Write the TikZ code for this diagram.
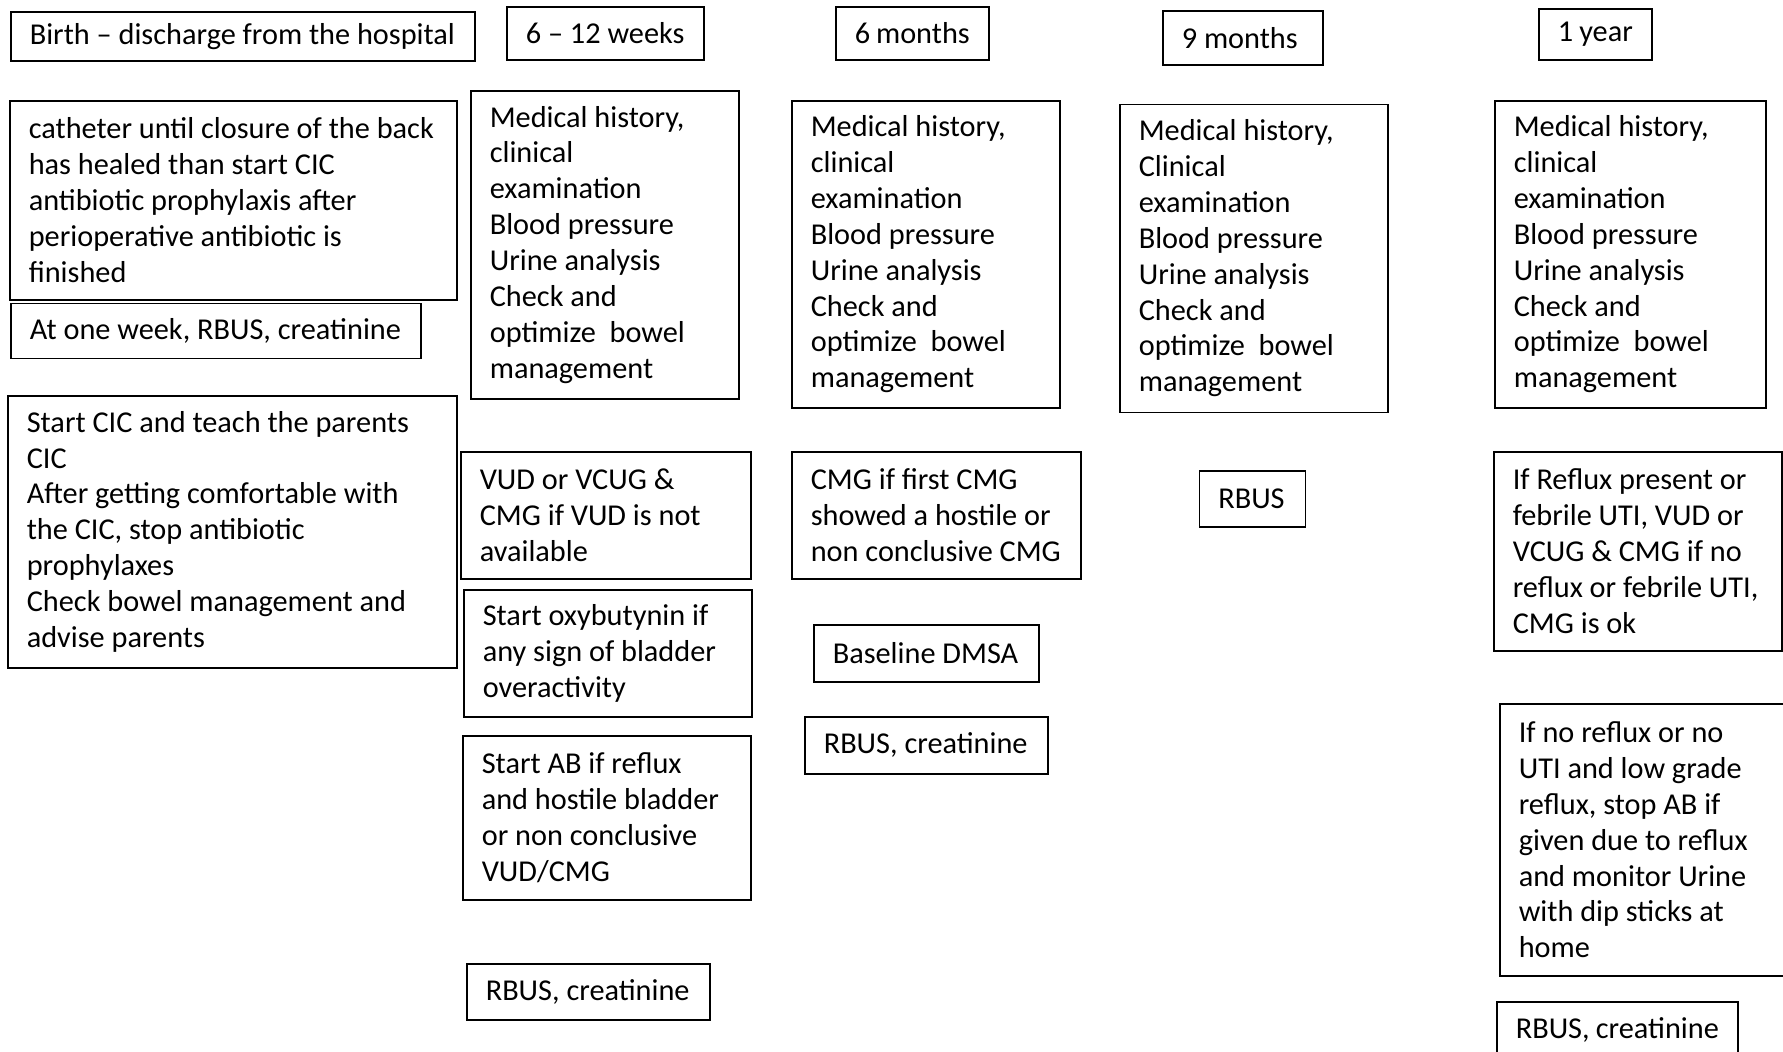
\documentclass[tikz,border=0pt]{standalone}
\usepackage{fontspec}
\setmainfont{Carlito}

\begin{document}
\begin{tikzpicture}[
  x=1pt, y=-1pt,
  box/.style={
    draw,
    line width=1.6pt,
    anchor=north west,
    align=flush left,
    inner xsep=19pt,
    inner ysep=0pt,
    font=\fontsize{30.3}{35.9}\selectfont
  }
  ]
  \useasboundingbox (0,0) rectangle (1783,1052);

  % time points
  \node[box,text width=426pt,minimum height=49pt](birth) at (10,11){Birth – discharge from the hospital};
  \node[box,text width=159pt,minimum height=53pt](wk) at (506,6){6 – 12~weeks};
  \node[box,text width=115pt,minimum height=53pt](m6) at (835,6){6~months};
  \node[box,text width=122pt,minimum height=54pt](m9) at (1162,10){9~months};
  \node[box,text width=75pt,minimum height=51pt](y1) at (1538,8){1~year};

  % birth
  \node[box,text width=409pt,minimum height=199pt](birthCath) at (9,100){catheter until closure of the back\\has healed than start CIC\\antibiotic prophylaxis after\\perioperative antibiotic is\\finished};
  \node[box,text width=372pt,minimum height=55pt](birthWeek) at (10,302.5){At one week, RBUS, creatinine};
  \node[box,text width=411pt,minimum height=272pt](birthCIC) at (7,395){Start CIC and teach the parents\\CIC\\After getting comfortable with\\the CIC, stop antibiotic\\prophylaxes\\Check bowel management and\\advise parents};

  % 6-12 weeks
  \node[box,text width=230pt,minimum height=308pt](wkExam) at (470,90){Medical history,\\clinical\\examination\\Blood pressure\\Urine analysis\\Check and\\optimize~ bowel\\management};
  \node[box,text width=252pt,minimum height=127pt](wkVud) at (460,451){VUD or VCUG \&\\CMG if VUD is not\\available};
  \node[box,text width=250pt,minimum height=127pt](wkOxy) at (463,589){Start oxybutynin if\\any sign of bladder\\overactivity};
  \node[box,text width=250pt,minimum height=164pt](wkAb) at (462,735){Start AB if reflux\\and hostile bladder\\or non conclusive\\VUD/CMG};
  \node[box,text width=205pt,minimum height=56pt](wkRbus) at (466,963){RBUS, creatinine};

  % 6 months
  \node[box,text width=230pt,minimum height=307pt](m6Exam) at (791,100){Medical history,\\clinical\\examination\\Blood pressure\\Urine analysis\\Check and\\optimize~ bowel\\management};
  \node[box,text width=251pt,minimum height=127pt](m6Cmg) at (791,451){CMG if first CMG\\showed a hostile or\\non conclusive CMG};
  \node[box,text width=187pt,minimum height=57pt](m6Dmsa) at (813,624){Baseline DMSA};
  \node[box,text width=205pt,minimum height=57pt](m6Rbus) at (804,716){RBUS, creatinine};

  % 9 months
  \node[box,text width=230pt,minimum height=308pt](m9Exam) at (1119,103.5){Medical history,\\Clinical\\examination\\Blood pressure\\Urine analysis\\Check and\\optimize~ bowel\\management};
  \node[box,text width=68pt,minimum height=56pt](m9Rbus) at (1198.5,470){RBUS};

  % 1 year
  \node[box,text width=233pt,minimum height=307pt](y1Exam) at (1494,100){Medical history,\\clinical\\examination\\Blood pressure\\Urine analysis\\Check and\\optimize~ bowel\\management};
  \node[box,text width=250pt,minimum height=199pt](y1Reflux) at (1493,451){If Reflux present or\\febrile UTI, VUD or\\VCUG \& CMG if no\\reflux or febrile UTI,\\CMG is ok};
  \node[box,text width=262pt,minimum height=272pt](y1Stop) at (1499,703){If no reflux or no\\UTI and low grade\\reflux, stop AB if\\given due to reflux\\and monitor Urine\\with dip sticks at\\home};
  \node[box,text width=203pt,minimum height=56pt](y1Rbus) at (1496,1001){RBUS, creatinine};
\end{tikzpicture}
\end{document}
